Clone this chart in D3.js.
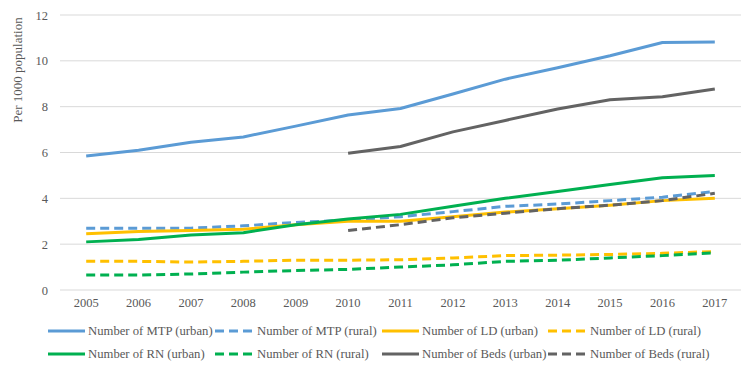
<!DOCTYPE html>
<meta charset="utf-8">
<title>Per 1000 population</title>
<script src="https://d3js.org/d3.v7.min.js"></script>
<style>
  body { margin: 0; background: #fff; }
  text { font-family: "Liberation Serif", "Times New Roman", serif; fill: #595959; }
  .tick text { font-size: 12.5px; }
  .legend text { font-size: 12.7px; }
</style>
<div id="chart"></div>
<script>
// data
var years = ["2005","2006","2007","2008","2009","2010","2011","2012","2013","2014","2015","2016","2017"];
var yTicks = [0, 2, 4, 6, 8, 10, 12];

var mtpUrban  = [5.85, 6.1, 6.45, 6.68, 7.15, 7.64, 7.92, 8.55, 9.2, 9.7, 10.22, 10.8, 10.82];
var mtpRural  = [2.7, 2.7, 2.7, 2.8, 2.95, 3.05, 3.2, 3.42, 3.65, 3.75, 3.9, 4.05, 4.3];
var ldUrban   = [2.45, 2.55, 2.6, 2.65, 2.85, 3.0, 3.0, 3.2, 3.4, 3.55, 3.7, 3.9, 4.0];
var ldRural   = [1.25, 1.25, 1.22, 1.25, 1.3, 1.3, 1.32, 1.4, 1.5, 1.52, 1.55, 1.6, 1.68];
var rnUrban   = [2.1, 2.2, 2.4, 2.5, 2.85, 3.1, 3.3, 3.65, 4.0, 4.3, 4.6, 4.9, 5.0];
var rnRural   = [0.65, 0.65, 0.7, 0.78, 0.85, 0.9, 1.0, 1.1, 1.25, 1.3, 1.4, 1.5, 1.62];
var bedsUrban = [null, null, null, null, null, 5.97, 6.26, 6.9, 7.4, 7.9, 8.3, 8.43, 8.77];
var bedsRural = [null, null, null, null, null, 2.6, 2.85, 3.15, 3.35, 3.55, 3.7, 3.9, 4.22];

var series = [
  {name: "Number of MTP (urban)",  values: mtpUrban,  color: "#5b9bd5", dash: null},
  {name: "Number of MTP (rural)",  values: mtpRural,  color: "#5b9bd5", dash: "9,5"},
  {name: "Number of LD (urban)",   values: ldUrban,   color: "#ffc000", dash: null},
  {name: "Number of LD (rural)",   values: ldRural,   color: "#ffc000", dash: "9,5"},
  {name: "Number of RN (urban)",   values: rnUrban,   color: "#00b050", dash: null},
  {name: "Number of RN (rural)",   values: rnRural,   color: "#00b050", dash: "9,5"},
  {name: "Number of Beds (urban)", values: bedsUrban, color: "#636363", dash: null},
  {name: "Number of Beds (rural)", values: bedsRural, color: "#636363", dash: "9,5"}
];

var W = 755, H = 370;
var m = {left: 60, right: 741, top: 15, bottom: 290};

var svg = d3.select("#chart").append("svg")
  .attr("width", W).attr("height", H);

var x = d3.scaleBand().domain(years).range([m.left, m.right]);
var y = d3.scaleLinear().domain([0, 12]).range([m.bottom, m.top]);

// gridlines
svg.append("g")
  .selectAll("line")
  .data(yTicks)
  .enter().append("line")
  .attr("x1", m.left).attr("x2", m.right)
  .attr("y1", function(d) { return y(d); })
  .attr("y2", function(d) { return y(d); })
  .attr("stroke", "#d9d9d9")
  .attr("stroke-width", 1);

// y axis labels
var yAxis = svg.append("g")
  .attr("transform", "translate(" + m.left + ",0)")
  .call(d3.axisLeft(y).tickValues(yTicks).tickSize(0).tickPadding(12));
yAxis.select(".domain").remove();

// x axis labels
var xAxis = svg.append("g")
  .attr("transform", "translate(0," + m.bottom + ")")
  .call(d3.axisBottom(x).tickSize(0).tickPadding(8));
xAxis.select(".domain").remove();

svg.append("text")
  .attr("transform", "translate(22,70) rotate(-90)")
  .attr("text-anchor", "middle")
  .style("font-size", "13px")
  .text("Per 1000 population");

// lines
var line = d3.line()
  .defined(function(d) { return d != null; })
  .x(function(d, i) { return x(years[i]) + x.bandwidth() / 2; })
  .y(function(d) { return y(d); });

svg.append("g")
  .selectAll("path")
  .data(series)
  .enter().append("path")
  .attr("d", function(s) { return line(s.values); })
  .attr("fill", "none")
  .attr("stroke", function(s) { return s.color; })
  .attr("stroke-width", 3)
  .attr("stroke-linejoin", "round")
  .attr("stroke-dasharray", function(s) { return s.dash; });

// legend
var colX = [48, 215, 382, 548];
var rowY = [331, 354];
var legend = svg.append("g").attr("class", "legend")
  .selectAll("g")
  .data(series)
  .enter().append("g")
  .attr("transform", function(s, i) {
    return "translate(" + colX[i % 4] + "," + rowY[Math.floor(i / 4)] + ")";
  });

legend.append("line")
  .attr("x1", 0).attr("x2", 37)
  .attr("y1", 0).attr("y2", 0)
  .attr("stroke", function(s) { return s.color; })
  .attr("stroke-width", 3)
  .attr("stroke-dasharray", function(s) { return s.dash; });

legend.append("text")
  .attr("x", function(s) { return s.dash ? 42 : 40; })
  .attr("y", 0)
  .attr("dy", "0.35em")
  .text(function(s) { return s.name; });
</script>
